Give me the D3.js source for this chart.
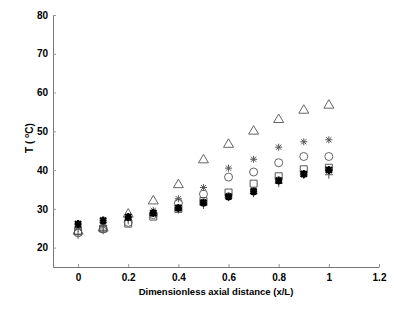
<!DOCTYPE html>
<html>
<head>
<meta charset="utf-8">
<script src="https://cdn.jsdelivr.net/npm/d3@7"></script>
<style>
  body { margin: 0; background: #fff; }
  svg text { font-family: "Liberation Sans", Arial, sans-serif; font-weight: bold; fill: #000; }
</style>
</head>
<body>
<div id="chart"></div>
<script>
const xVals = [0, 0.1, 0.2, 0.3, 0.4, 0.5, 0.6, 0.7, 0.8, 0.9, 1.0];

// one array per marker series
const triangleVals = [24.5, 25.3, 28.9, 32.3, 36.5, 42.9, 46.9, 50.3, 53.3, 55.7, 57.0];
const asteriskVals = [25.0, 25.5, 27.5, 29.6, 32.6, 35.5, 40.5, 42.8, 45.9, 47.3, 47.8];
const circleVals = [23.8, 24.8, 26.5, 28.5, 31.5, 33.8, 38.2, 39.5, 41.9, 43.5, 43.5];
const squareVals = [24.3, 24.9, 26.2, 28.0, 30.0, 32.0, 34.2, 36.5, 38.4, 40.2, 40.6];
const filledVals = [26.1, 27.0, 27.9, 28.9, 30.2, 31.6, 33.2, 34.5, 37.3, 39.0, 40.0];
const plusVals = [23.3, 24.5, 27.0, 29.0, 29.8, 31.0, 33.0, 34.0, 36.6, 38.7, 38.8];

const xTicks = [0, 0.2, 0.4, 0.6, 0.8, 1, 1.2];
const yTicks = [20, 30, 40, 50, 60, 70, 80];

const w = 394, h = 309;
const margin = { top: 15, right: 15, bottom: 42, left: 53 };

const svg = d3.select('#chart').append('svg')
  .attr('width', w)
  .attr('height', h);

const xScale = d3.scaleLinear().domain([-0.1, 1.2]).range([margin.left, w - margin.right]);
const yScale = d3.scaleLinear().domain([15, 80]).range([h - margin.bottom, margin.top]);

const xAxis = d3.axisBottom(xScale).tickValues(xTicks).tickSizeInner(-3).tickSizeOuter(0)
  .tickPadding(7).tickFormat(d => d3.format('')(+d.toFixed(1)));
const yAxis = d3.axisLeft(yScale).tickValues(yTicks).tickSizeInner(-3).tickSizeOuter(0)
  .tickPadding(5);

const gx = svg.append('g')
  .attr('transform', 'translate(0,' + (h - margin.bottom) + ')')
  .call(xAxis);
const gy = svg.append('g')
  .attr('transform', 'translate(' + margin.left + ',0)')
  .call(yAxis);

[gx, gy].forEach(g => {
  g.select('.domain').attr('stroke', '#777').attr('stroke-width', 1);
  g.selectAll('.tick line').attr('stroke', '#999');
  g.selectAll('.tick text').attr('font-size', 10).attr('font-weight', 'bold')
    .attr('font-family', '"Liberation Sans", Arial, sans-serif').attr('fill', '#000');
});

svg.append('text')
  .attr('x', xScale(0.55))
  .attr('y', 295)
  .attr('text-anchor', 'middle')
  .attr('font-size', 9.5)
  .text('Dimensionless axial distance (x/L)');

const yl = svg.append('text')
  .attr('transform', 'translate(33,138) rotate(-90)')
  .attr('text-anchor', 'middle')
  .attr('font-size', 10);
yl.append('tspan').text('T ( ');
yl.append('tspan').attr('font-size', 7).attr('dy', -4).text('o');
yl.append('tspan').attr('dy', 4).text('C)');

const plot = svg.append('g');

function pts(vals) {
  return vals.map((v, i) => ({ x: xVals[i], y: v }));
}

// draw order: light markers first, filled stars on top
const series = [
  { vals: plusVals, path: 'M-4,0H4M0,-4V4', stroke: '#555', width: 1, fill: 'none' },
  { vals: squareVals, path: 'M-3.5,-3.5H3.5V3.5H-3.5Z', stroke: '#444', width: 0.9, fill: 'none' },
  { vals: circleVals, path: 'M4,0A4,4 0 1,1 -4,0A4,4 0 1,1 4,0Z', stroke: '#555', width: 0.9, fill: 'none' },
  { vals: triangleVals, path: 'M0,-4.5L5,4L-5,4Z', stroke: '#555', width: 0.9, fill: 'none' },
  { vals: asteriskVals, path: 'M-3.5,0H3.5M0,-3.5V3.5M-2.6,-2.6L2.6,2.6M-2.6,2.6L2.6,-2.6', stroke: '#555', width: 1, fill: 'none' },
  { vals: filledVals, path: 'M-3.5,0H3.5M0,-4V4M-3,-3L3,3M-3,3L3,-3', stroke: '#000', width: 2.2, fill: 'none' }
];

series.forEach(s => {
  plot.selectAll(null)
    .data(pts(s.vals))
    .enter()
    .append('path')
    .attr('d', s.path)
    .attr('transform', d => 'translate(' + xScale(d.x) + ',' + yScale(d.y) + ')')
    .attr('fill', s.fill)
    .attr('stroke', s.stroke)
    .attr('stroke-width', s.width);
});
</script>
</body>
</html>
